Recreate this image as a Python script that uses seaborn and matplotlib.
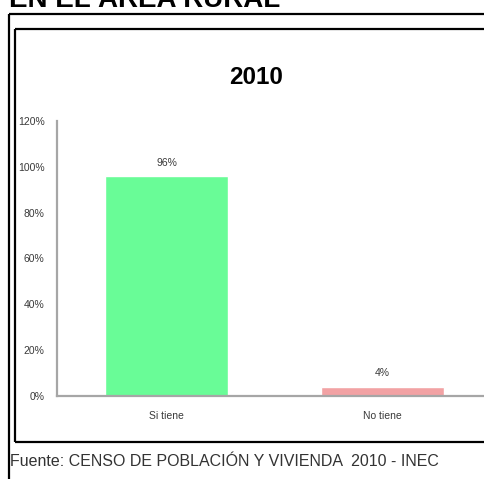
import matplotlib
matplotlib.use("Agg")
import matplotlib.pyplot as plt
from matplotlib.lines import Line2D
from matplotlib.ticker import PercentFormatter
import pandas as pd
import seaborn as sns

# data
categories = ["Si tiene", "No tiene"]
shares = [0.96, 0.04]
bar_labels = ["96%", "4%"]
bar_colors = ["#69fc97", "#f2a2a4"]
y_ticks = [0, 0.2, 0.4, 0.6, 0.8, 1.0, 1.2]

W, H = 484, 479
sns.set_theme(style="white")
plt.rcParams['font.family'] = ['Liberation Sans', 'DejaVu Sans']

fig = plt.figure(figsize=(W / 100, H / 100), dpi=100)
fig.patch.set_facecolor("white")


def fx(px):
    return px / W


def fy(py):
    return 1 - py / H


# document header (cut off at the top, as in the source page) and frames
fig.text(fx(9), fy(7), "EN EL ÁREA RURAL", fontsize=20, fontweight="bold",
         ha="left", va="baseline", color="black")
frame = dict(color="black", lw=1.6, solid_capstyle="butt")
fig.add_artist(Line2D([fx(8.5), fx(8.5)], [fy(14), fy(479)], **frame))
fig.add_artist(Line2D([fx(8.5), fx(484)], [fy(14), fy(14)], **frame))
fig.add_artist(Line2D([fx(14.5), fx(14.5)], [fy(29), fy(442)], **frame))
fig.add_artist(Line2D([fx(14.5), fx(484)], [fy(29), fy(29)], **frame))
fig.add_artist(Line2D([fx(14.5), fx(484)], [fy(442), fy(442)], **frame))

# chart area
ax = fig.add_axes([fx(57), fy(396), fx(492 - 57), (396 - 121) / H])
df = pd.DataFrame({"cat": categories, "val": shares})
sns.barplot(data=df, x="cat", y="val", hue="cat", palette=bar_colors,
            width=0.57, legend=False, ax=ax, saturation=1)

ax.set_ylim(0, 1.2)
ax.set_xlim(-0.507, 1.507)
ax.set_yticks(y_ticks)
ax.yaxis.set_major_formatter(PercentFormatter(1.0, decimals=0))
ax.set_xlabel("")
ax.set_ylabel("")
ax.tick_params(axis="both", length=0, labelsize=7.5, labelcolor="#3a3a3a")
ax.tick_params(axis="y", pad=9)
ax.tick_params(axis="x", pad=11)
for side in ["top", "right"]:
    ax.spines[side].set_visible(False)
for side in ["left", "bottom"]:
    ax.spines[side].set_color("#a6a6a6")
    ax.spines[side].set_linewidth(1.6)

for i, (v, lab) in enumerate(zip(shares, bar_labels)):
    ax.annotate(lab, (i, v), xytext=(0, 6), textcoords="offset points",
                ha="center", va="bottom", fontsize=7.5, color="#3a3a3a")

fig.text(fx(256), fy(77), "2010", fontsize=17.5, fontweight="bold",
         ha="center", va="center", color="black")

fig.text(fx(10), fy(462), "Fuente: CENSO DE POBLACIÓN Y VIVIENDA  2010 - INEC",
         fontsize=11.5, ha="left", va="center", color="#333333")

fig.savefig("out.png", dpi=100)
